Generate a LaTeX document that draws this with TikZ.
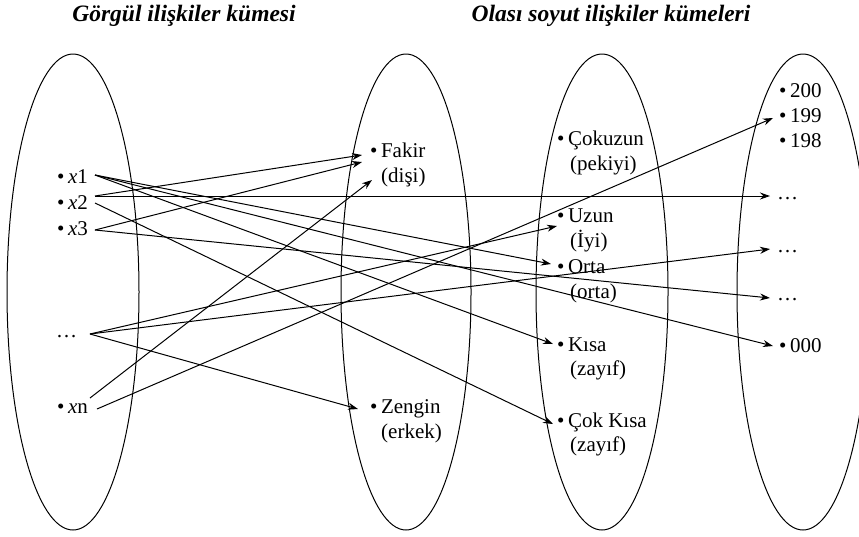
\documentclass[tikz,border=0pt]{standalone}
\usepackage{fontspec}
\setmainfont{Liberation Serif}
\usetikzlibrary{arrows.meta}
\newcommand{\bul}{•\hspace{3.5pt}}
\begin{document}
\begin{tikzpicture}[x=1pt,y=-1pt,
  item/.style={anchor=base west, inner sep=0pt, font=\fontsize{21}{25}\selectfont},
  ttl/.style={anchor=base, inner sep=0pt, font=\fontsize{23.5}{27}\selectfont\bfseries\itshape},
  setshape/.style={line width=1pt},
  arr/.style={line width=1pt, -{Stealth[length=10pt,width=7pt]}}]
\useasboundingbox (0,0) rectangle (859,536);
% titles
\node[ttl] (t1) at (184,21) {Görgül ilişkiler kümesi};
\node[ttl] (t2) at (611,21) {Olası soyut ilişkiler kümeleri};
% sets
\draw[setshape] (73,292) ellipse [x radius=66pt, y radius=238pt];
\draw[setshape] (406,292) ellipse [x radius=65pt, y radius=238pt];
\draw[setshape] (602,292) ellipse [x radius=66pt, y radius=238pt];
\draw[setshape] (803,292) ellipse [x radius=66pt, y radius=238pt];
% left set
\node[item] (x1) at (57,183) {\bul\textit{x}1};
\node[item] (x2) at (57,209) {\bul\textit{x}2};
\node[item] (x3) at (57,235) {\bul\textit{x}3};
\node[item] (xd) at (56,337) {…};
\node[item] (xn) at (57,413) {\bul\textit{x}n};
% second set
\node[item] (fakir) at (370,157) {\bul Fakir};
\node[item] (disi) at (381,182) {(dişi)};
\node[item] (zengin) at (370,413) {\bul Zengin};
\node[item] (erkek) at (381,438) {(erkek)};
% third set
\node[item] (cokuzun) at (557,145) {\bul Çokuzun};
\node[item] (pekiyi) at (570,170) {(pekiyi)};
\node[item] (uzun) at (557,222) {\bul Uzun};
\node[item] (iyi) at (570,247) {(İyi)};
\node[item] (orta) at (557,273) {\bul Orta};
\node[item] (orta2) at (570,298) {(orta)};
\node[item] (kisa) at (557,351) {\bul Kısa};
\node[item] (zayif1) at (570,375) {(zayıf)};
\node[item] (cokkisa) at (557,427) {\bul Çok Kısa};
\node[item] (zayif2) at (570,451) {(zayıf)};
% fourth set
\node[item] (n200) at (779,97) {\bul 200};
\node[item] (n199) at (779,122) {\bul 199};
\node[item] (n198) at (779,147) {\bul 198};
\node[item] (da) at (777,199) {…};
\node[item] (db) at (777,252) {…};
\node[item] (dc) at (777,300) {…};
\node[item] (n000) at (779,352) {\bul 000};
% arrows
\draw[arr] ([shift={(38,-8)}]x1.base west) -- ([shift={(-6,-9)}]orta.base west);
\draw[arr] ([shift={(38,-8)}]x1.base west) -- ([shift={(-4,-7)}]kisa.base west);
\draw[arr] ([shift={(38,-8)}]x1.base west) -- ([shift={(-6,-6)}]n000.base west);
\draw[arr] ([shift={(38,-13)}]x2.base west) -- ([shift={(-8,-2)}]fakir.base west);
\draw[arr] ([shift={(38,-13)}]x2.base west) -- ([shift={(-7,-3)}]da.base west);
\draw[arr] ([shift={(38,-6)}]x2.base west) -- ([shift={(-4,-3)}]cokkisa.base west);
\draw[arr] ([shift={(38,-5)}]x3.base west) -- ([shift={(-8,5)}]fakir.base west);
\draw[arr] ([shift={(38,-5)}]x3.base west) -- ([shift={(-7,-2)}]dc.base west);
\draw[arr] ([shift={(34,-3)}]xd.base west) -- ([shift={(0,4)}]uzun.base west);
\draw[arr] ([shift={(34,-3)}]xd.base west) -- ([shift={(-7,-3)}]db.base west);
\draw[arr] ([shift={(34,-3)}]xd.base west) -- ([shift={(-12,-4)}]zengin.base west);
\draw[arr] ([shift={(33,-15)}]xn.base west) -- ([shift={(-9,-2)}]disi.base west);
\draw[arr] ([shift={(40,-4)}]xn.base west) -- ([shift={(-6,-4)}]n199.base west);
\end{tikzpicture}
\end{document}
